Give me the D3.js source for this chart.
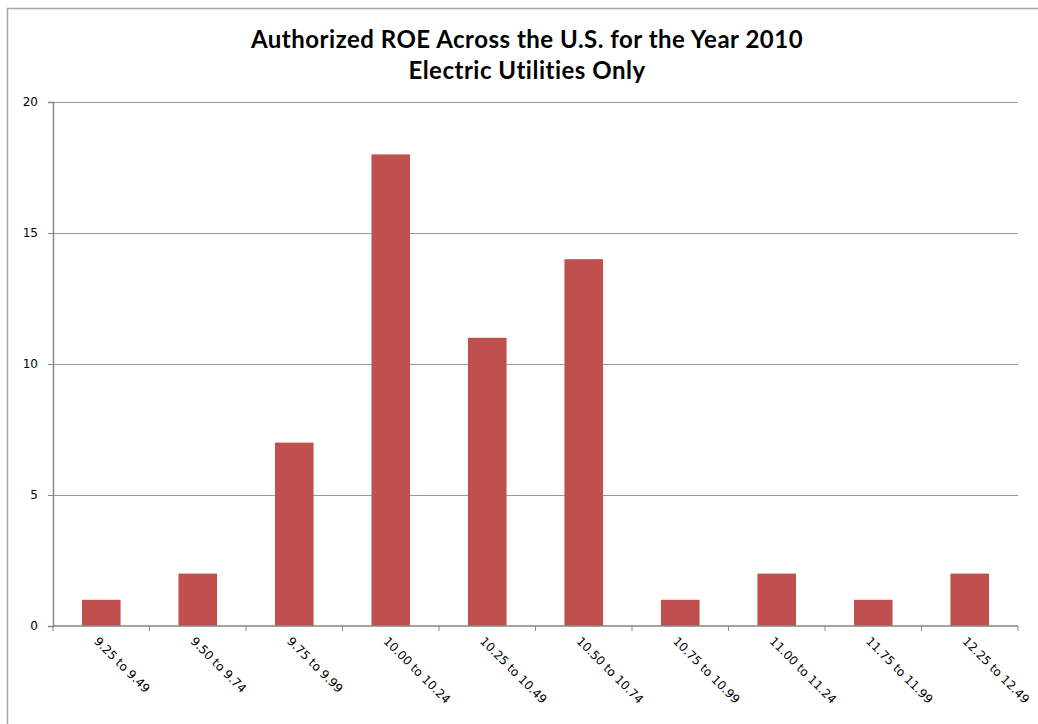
<!DOCTYPE html>
<html>
<head>
<meta charset="utf-8">
<script src="https://cdn.jsdelivr.net/npm/d3@7"></script>
<style>
  body { margin: 0; background: #fff; }
  svg { display: block; }
</style>
</head>
<body>
<div id="chart"></div>
<script>
(function(){
// ROE ranges and count of rate cases in each
const categories = ["9.25 to 9.49", "9.50 to 9.74", "9.75 to 9.99", "10.00 to 10.24", "10.25 to 10.49",
    "10.50 to 10.74", "10.75 to 10.99", "11.00 to 11.24", "11.75 to 11.99", "12.25 to 12.49"];
const counts = [1, 2, 7, 18, 11, 14, 1, 2, 1, 2];
const yTicks = [0, 5, 10, 15, 20];
const titleLines = ["Authorized ROE Across the U.S. for the Year 2010", "Electric Utilities Only"];

const W = 1038, H = 724;
const margin = { top: 102, right: 20, bottom: 98, left: 53 };
const width = W - margin.left - margin.right;
const height = H - margin.top - margin.bottom;

const root = d3.select("#chart").append("svg")
    .attr("width", W)
    .attr("height", H);

// chart area border
root.append("rect")
    .attr("x", 7.5).attr("y", 8.5)
    .attr("width", 1100).attr("height", 800)
    .attr("fill", "none")
    .attr("stroke", "#a6a6a6")
    .attr("stroke-width", 1.5);

// Title
root.selectAll(".title")
    .data(titleLines)
    .enter()
    .append("text")
    .attr("class", "title")
    .attr("x", 527)
    .attr("y", (d, i) => 48 + i * 31)
    .attr("text-anchor", "middle")
    .style("font-family", "Lato, 'Open Sans', sans-serif")
    .style("font-weight", "bold")
    .style("font-size", "24px")
    .style("letter-spacing", "0.5px")
    .style("fill", "#000")
    .text(d => d);

const svg = root.append("g")
    .attr("transform", `translate(${margin.left},${margin.top})`);

const xScale = d3.scaleBand()
    .domain(categories)
    .range([0, width])
    .paddingInner(0.6)
    .paddingOuter(0.3);

const yScale = d3.scaleLinear()
    .domain([0, 20])
    .range([height, 0]);

// gridlines
svg.selectAll(".grid")
    .data(yTicks.filter(d => d > 0))
    .enter()
    .append("line")
    .attr("class", "grid")
    .attr("x1", 0).attr("x2", width)
    .attr("y1", d => Math.round(yScale(d)) + 0.5)
    .attr("y2", d => Math.round(yScale(d)) + 0.5)
    .attr("stroke", "#9a9a9a")
    .attr("stroke-width", 1);

// Bars
svg.selectAll(".bar")
    .data(categories)
    .enter()
    .append("rect")
    .attr("class", "bar")
    .attr("x", d => xScale(d))
    .attr("width", xScale.bandwidth())
    .attr("y", (d, i) => yScale(counts[i]))
    .attr("height", (d, i) => height - yScale(counts[i]))
    .attr("fill", "#C0504D");

// y axis
const yAxis = svg.append("g")
    .call(d3.axisLeft(yScale).tickValues(yTicks).tickSize(5).tickPadding(10));
yAxis.select(".domain").attr("stroke", "#868686").attr("stroke-width", 1.5);
yAxis.selectAll(".tick line").attr("stroke", "#868686");
yAxis.selectAll(".tick text")
    .style("font-family", "'DejaVu Sans', sans-serif")
    .style("font-size", "12px")
    .style("fill", "#000");

// x axis, ticks sit on the category boundaries
const xAxis = svg.append("g")
    .attr("transform", `translate(0,${height})`);
xAxis.append("line")
    .attr("x1", 0).attr("x2", width)
    .attr("y1", 0).attr("y2", 0)
    .attr("stroke", "#868686")
    .attr("stroke-width", 1.5);
xAxis.selectAll(".xtick")
    .data(d3.range(categories.length + 1))
    .enter()
    .append("line")
    .attr("class", "xtick")
    .attr("x1", i => i * width / categories.length)
    .attr("x2", i => i * width / categories.length)
    .attr("y1", 0).attr("y2", 5)
    .attr("stroke", "#868686");

xAxis.selectAll(".xlabel")
    .data(categories)
    .enter()
    .append("text")
    .attr("class", "xlabel")
    .attr("transform", d => `translate(${xScale(d) + xScale.bandwidth() / 2 - 5},${13}) rotate(45)`)
    .attr("dy", "0.35em")
    .attr("text-anchor", "start")
    .style("font-family", "'DejaVu Sans', sans-serif")
    .style("font-size", "12px")
    .style("fill", "#000")
    .text(d => d);
})();
</script>
</body>
</html>
